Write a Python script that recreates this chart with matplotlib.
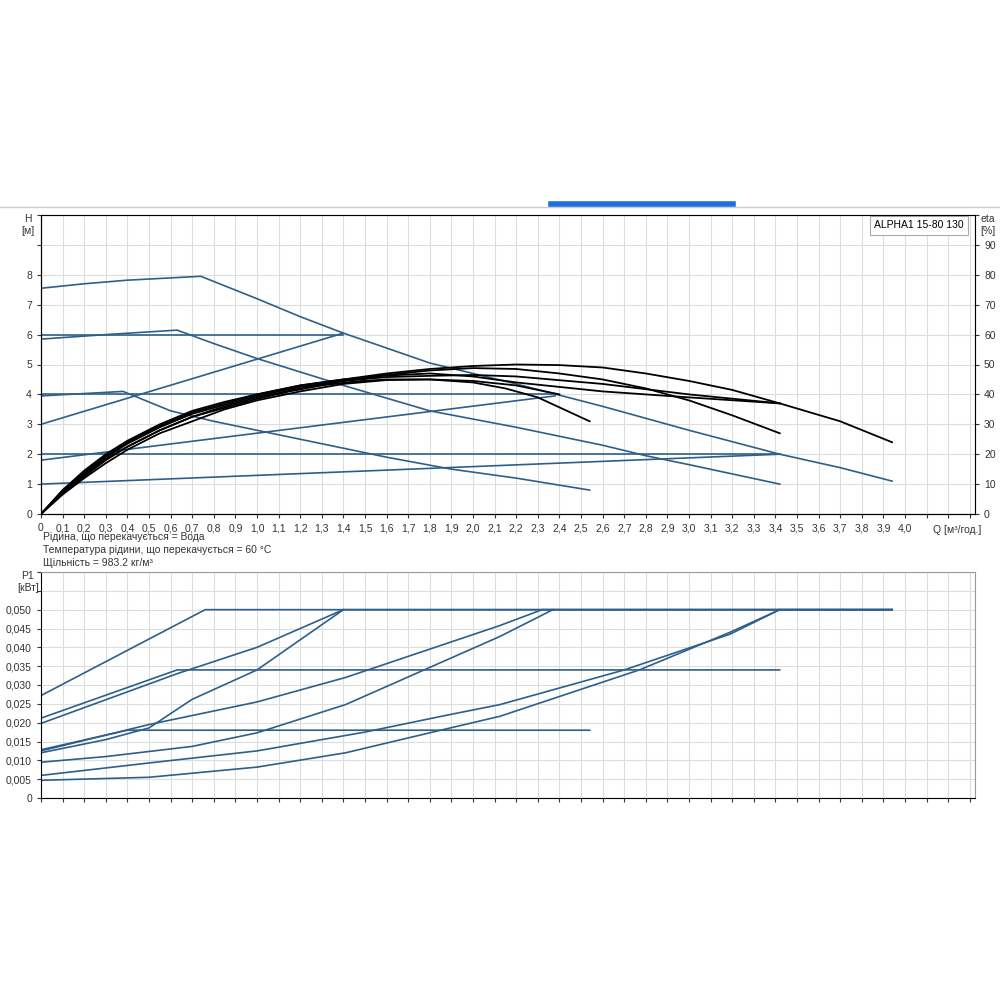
import matplotlib
matplotlib.use('Agg')
import matplotlib.pyplot as plt
import numpy as np

plt.rcParams['font.family'] = ['Liberation Sans', 'DejaVu Sans']

# H curves (Q m3/h, H m)
h_max_q = [0, 0.2, 0.4, 0.74, 1.0, 1.2, 1.4, 1.6, 1.8, 2.0, 2.2, 2.6, 3.0, 3.42, 3.7, 3.94]
h_max_h = [7.55, 7.7, 7.82, 7.95, 7.2, 6.6, 6.05, 5.55, 5.05, 4.7, 4.35, 3.6, 2.8, 2.0, 1.55, 1.1]
h_mid_q = [0, 0.3, 0.63, 0.8, 1.0, 1.4, 1.8, 2.2, 2.6, 2.8, 3.0, 3.42]
h_mid_h = [5.85, 6.0, 6.15, 5.7, 5.2, 4.3, 3.45, 2.9, 2.3, 1.95, 1.65, 1.0]
h_low_q = [0, 0.38, 0.6, 0.8, 1.0, 1.3, 1.6, 1.9, 2.2, 2.54]
h_low_h = [3.95, 4.1, 3.45, 3.1, 2.8, 2.35, 1.9, 1.5, 1.2, 0.8]
prop_q = [[0, 1.4], [0, 2.38], [0, 3.42]]
prop_h = [[3.0, 6.05], [1.8, 3.95], [1.0, 2.0]]
const_q = [[0, 1.4], [0, 2.38], [0, 3.42]]
const_h = [[6.0, 6.0], [4.0, 4.0], [2.0, 2.0]]

# efficiency curves (%)
eta_q = [
    [0, 0.1, 0.2, 0.3, 0.4, 0.55, 0.7, 0.85, 1.0, 1.2, 1.4, 1.6, 1.8, 2.0, 2.2, 2.4, 2.6, 2.8, 3.0, 3.2, 3.42, 3.7, 3.94],
    [0, 0.1, 0.2, 0.3, 0.4, 0.55, 0.7, 0.85, 1.0, 1.2, 1.4, 1.6, 1.8, 2.0, 2.2, 2.4, 2.6, 2.8, 3.0, 3.2, 3.42],
    [0, 0.1, 0.2, 0.3, 0.4, 0.55, 0.7, 0.85, 1.0, 1.15, 1.3, 1.45, 1.6, 1.8, 2.0, 2.15, 2.3, 2.54],
    [0, 0.1, 0.2, 0.3, 0.4, 0.55, 0.7, 0.85, 1.0, 1.2, 1.4, 1.6, 1.8, 2.0, 2.2, 2.6, 3.0, 3.42],
    [0, 0.1, 0.2, 0.3, 0.4, 0.55, 0.7, 0.85, 1.0, 1.2, 1.4, 1.6, 1.8, 2.0, 2.2, 2.6, 3.0, 3.42],
    [0, 0.1, 0.2, 0.3, 0.4, 0.55, 0.7, 0.85, 1.0, 1.2, 1.4, 1.6, 1.8, 2.0, 2.2, 2.4],
]
eta_v = [
    [0, 8, 14.5, 20, 24.5, 30, 34.5, 37.5, 40, 43, 45, 47, 48.5, 49.5, 50, 49.8, 49, 47, 44.5, 41.5, 37, 31, 24],
    [0, 7.5, 13.5, 19, 23.5, 29, 33.5, 36.5, 39.5, 42.5, 44.5, 46.5, 48, 48.8, 48.5, 47, 45, 42, 38, 33, 27],
    [0, 7, 12.5, 18, 22.5, 28, 32.5, 35.5, 38.5, 41, 43, 44.3, 45, 45, 44, 42, 39, 31],
    [0, 7.8, 14, 19.5, 24, 29.5, 34, 37, 40, 43, 45, 46.3, 47, 46, 44, 41, 39, 37],
    [0, 7.2, 13, 18.5, 22.5, 28, 32.5, 36, 39, 42, 44.5, 45.8, 46.2, 46.5, 46, 43.5, 40, 37],
    [0, 6.5, 12, 17, 21.5, 27, 31, 35, 38, 41, 43.5, 44.8, 45, 44.5, 43, 40],
]

# power curves (kW)
p_q = [
    [0, 0.76, 3.94],
    [0, 0.63, 3.42],
    [0, 0.63, 1.0, 1.4, 3.94],
    [0, 0.3, 0.5, 0.7, 1.0, 1.4],
    [0, 0.4, 2.54],
    [0, 0.5, 1.0, 1.41, 2.125, 2.32, 3.94],
    [0, 0.3, 0.7, 1.0, 1.41, 2.125, 2.37],
    [0, 0.5, 1.0, 1.5, 1.88, 2.125, 2.7, 3.19, 3.42, 3.94],
    [0, 0.5, 1.0, 1.41, 1.88, 2.125, 2.77, 3.19, 3.42],
]
p_v = [
    [0.0272, 0.050, 0.050],
    [0.0212, 0.034, 0.034],
    [0.0198, 0.033, 0.040, 0.050, 0.050],
    [0.012, 0.0155, 0.0186, 0.0262, 0.034, 0.050],
    [0.0128, 0.018, 0.018],
    [0.0125, 0.0195, 0.0255, 0.032, 0.0458, 0.050, 0.050],
    [0.0095, 0.011, 0.0137, 0.0173, 0.0248, 0.0429, 0.050],
    [0.006, 0.0093, 0.0125, 0.0175, 0.022, 0.0248, 0.034, 0.0435, 0.050, 0.050],
    [0.0047, 0.0055, 0.0082, 0.012, 0.0184, 0.0217, 0.034, 0.044, 0.050],
]

blue = '#2e5f8a'
xmax = 4.324
fig = plt.figure(figsize=(10, 10), dpi=100)

# separator line and blue tab at top
fig.add_artist(plt.Line2D([0, 1], [0.793, 0.793], color='#cccccc', lw=1))
fig.add_artist(plt.Line2D([0.551, 0.733], [0.796, 0.796], color='#1f6fe0', lw=4))


def grid_axes(ax, ymax, ystep):
    ax.set_xlim(0, xmax)
    ax.set_xticks(np.arange(0, 4.35, 0.1))
    ax.set_yticks(np.arange(0, ymax + 1e-9, ystep))
    ax.grid(True, color='#dddddd', lw=0.8)
    ax.set_axisbelow(True)
    for s in ['top', 'right']:
        ax.spines[s].set_color('#999999')
    ax.spines['left'].set_color('black')
    ax.spines['bottom'].set_color('black')
    ax.tick_params(labelsize=7.5, length=3, colors='#333333')


ax = fig.add_axes([0.041, 0.486, 0.934, 0.299])
grid_axes(ax, 10, 1)
ax.set_ylim(0, 10)
ax.set_yticklabels([str(i) if i <= 8 else '' for i in range(11)])
xl = []
for v in np.arange(0, 4.35, 0.1):
    if v < 4.05:
        xl.append('0' if v == 0 else f'{v:.1f}'.replace('.', ','))
    else:
        xl.append('')
ax.set_xticklabels(xl)
ax.text(4.24, -0.55, 'Q [м³/год.]', fontsize=7.5, ha='center', va='center', color='#333333')

ax.plot(h_max_q, h_max_h, color=blue, lw=1.2)
ax.plot(h_mid_q, h_mid_h, color=blue, lw=1.2)
ax.plot(h_low_q, h_low_h, color=blue, lw=1.2)
for q, h in zip(prop_q, prop_h):
    ax.plot(q, h, color=blue, lw=1.2)
for q, h in zip(const_q, const_h):
    ax.plot(q, h, color=blue, lw=1.2)

ax2 = ax.twinx()
ax2.set_ylim(0, 100)
ax2.set_yticks(range(0, 101, 10))
ax2.set_yticklabels([str(i) if i <= 90 else '' for i in range(0, 101, 10)])
ax2.tick_params(labelsize=7.5, length=3, colors='#333333')
ax2.spines['right'].set_color('black')
for q, e in zip(eta_q, eta_v):
    ax2.plot(q, e, color='black', lw=1.3)

fig.text(0.028, 0.775, 'H\n[м]', fontsize=7.5, ha='center', va='center', color='#333333')
fig.text(0.988, 0.775, 'eta\n[%]', fontsize=7.5, ha='center', va='center', color='#333333')
ax.text(4.27, 9.65, 'ALPHA1 15-80 130', fontsize=7.5, ha='right', va='center',
        bbox=dict(boxstyle='square,pad=0.4', fc='white', ec='#aaaaaa', lw=0.8))

fig.text(0.043, 0.463, 'Рідина, що перекачується = Вода', fontsize=7.5, color='#333333', va='center')
fig.text(0.043, 0.450, 'Температура рідини, що перекачується = 60 °C', fontsize=7.5, color='#333333', va='center')
fig.text(0.043, 0.437, 'Щільність = 983.2 кг/м³', fontsize=7.5, color='#333333', va='center')

bx = fig.add_axes([0.041, 0.202, 0.934, 0.226])
grid_axes(bx, 0.06, 0.005)
bx.set_ylim(0, 0.06)
bx.set_xticklabels([])
bx.set_yticklabels(['0'] + [f'{v:.3f}'.replace('.', ',') for v in np.arange(0.005, 0.0501, 0.005)] + ['', ''])
bx.spines['right'].set_color('#999999')
for q, p in zip(p_q, p_v):
    bx.plot(q, p, color=blue, lw=1.2)
fig.text(0.028, 0.418, 'P1\n[кВт]', fontsize=7.5, ha='center', va='center', color='#333333')

fig.savefig('out.png', dpi=100, facecolor='white')
